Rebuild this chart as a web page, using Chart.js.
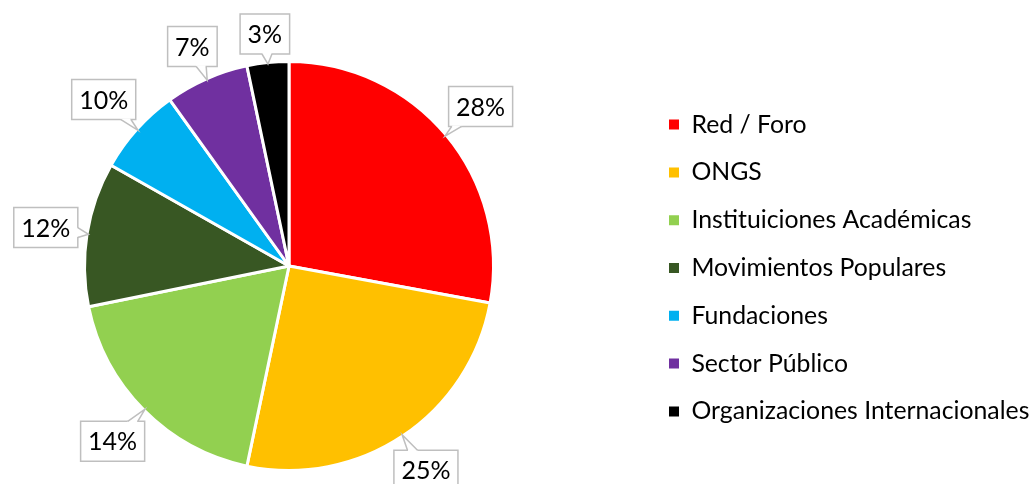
<!DOCTYPE html>
<html><head><meta charset="utf-8">
<script src="https://cdn.jsdelivr.net/npm/chart.js@4.4.0/dist/chart.umd.min.js"></script>
<style>html,body{margin:0;padding:0;background:#fff;}#wrap{width:1031px;height:484px;}</style>
</head><body><div id="wrap"><canvas id="c" width="1031" height="484"></canvas></div>
<script>
const categories = ['Red / Foro','ONGS','Instituiciones Académicas','Movimientos Populares','Fundaciones','Sector Público','Organizaciones Internacionales'];
const shares = [27.9, 25.4, 18.5, 11.4, 6.9, 6.6, 3.3];
const percentLabels = ['28%','25%','14%','12%','10%','7%','3%'];
const colors = ['#FF0000','#FFC000','#92D050','#385723','#00B0F0','#7030A0','#000000'];

const FONT = 'Lato';
const LEGEND_PAD = 23;

const placePlugin = {
  id: 'place',
  afterLayout(chart) {
    const lg = chart.legend;
    const w = lg.width;
    lg.left = 669 - LEGEND_PAD; lg.right = lg.left + w;
    lg.top += 2; lg.bottom += 2;
    const ca = chart.chartArea;
    ca.left = 0; ca.right = 578; ca.width = 578;
  }
};

function rectDist(px, py, bx, by, w, h) {
  const qx = Math.max(bx, Math.min(bx + w, px));
  const qy = Math.max(by, Math.min(by + h, py));
  return Math.hypot(px - qx, py - qy);
}

const calloutPlugin = {
  id: 'callouts',
  afterDatasetsDraw(chart) {
    const ctx = chart.ctx;
    const meta = chart.getDatasetMeta(0);
    ctx.save();
    ctx.font = '25px ' + FONT;
    meta.data.forEach((arc, i) => {
      const p = arc.getProps(['x','y','startAngle','endAngle','outerRadius'], true);
      const a = (p.startAngle + p.endAngle) / 2;
      const c = Math.cos(a), s = Math.sin(a);
      const R = p.outerRadius - 1.5;
      const tip = {x: p.x + R * c, y: p.y + R * s};
      const txt = percentLabels[i];
      const tw = ctx.measureText(txt).width;
      const w = tw + 15, h = 40;
      const gap = 9;
      let lo = R, hi = R + 300;
      for (let k = 0; k < 40; k++) {
        const m = (lo + hi) / 2;
        const ccx = p.x + m * c, ccy = p.y + m * s;
        if (rectDist(p.x, p.y, ccx - w / 2, ccy - h / 2, w, h) < R + gap) lo = m; else hi = m;
      }
      const d = (lo + hi) / 2;
      const cx = p.x + d * c, cy = p.y + d * s;
      const bx = cx - w / 2, by = cy - h / 2;
      const dx = tip.x - cx, dy = tip.y - cy, len = Math.hypot(dx, dy);
      const ux = dx / len, uy = dy / len;
      const tx = Math.abs(ux) > 1e-6 ? (w / 2) / Math.abs(ux) : Infinity;
      const ty = Math.abs(uy) > 1e-6 ? (h / 2) / Math.abs(uy) : Infinity;
      const t = Math.min(tx, ty);
      const basex = cx + ux * t, basey = cy + uy * t;
      let b1, b2;
      const hb = 5;
      if (tx < ty) {
        const yy = Math.max(by + hb, Math.min(by + h - hb, basey));
        b1 = {x: basex, y: yy - hb}; b2 = {x: basex, y: yy + hb};
      } else {
        const xx = Math.max(bx + hb, Math.min(bx + w - hb, basex));
        b1 = {x: xx - hb, y: basey}; b2 = {x: xx + hb, y: basey};
      }
      ctx.fillStyle = '#ffffff';
      ctx.strokeStyle = '#BFBFBF';
      ctx.lineWidth = 1.5;
      ctx.beginPath(); ctx.rect(bx, by, w, h); ctx.fill(); ctx.stroke();
      ctx.beginPath();
      ctx.moveTo(b1.x - ux * 1.5, b1.y - uy * 1.5);
      ctx.lineTo(tip.x, tip.y);
      ctx.lineTo(b2.x - ux * 1.5, b2.y - uy * 1.5);
      ctx.closePath(); ctx.fill();
      ctx.beginPath();
      ctx.moveTo(b1.x, b1.y); ctx.lineTo(tip.x, tip.y); ctx.lineTo(b2.x, b2.y);
      ctx.stroke();
      ctx.fillStyle = '#000000';
      ctx.textAlign = 'center'; ctx.textBaseline = 'middle';
      ctx.fillText(txt, cx, cy + 1);
    });
    ctx.restore();
  }
};

new Chart(document.getElementById('c'), {
  type: 'pie',
  data: {
    labels: categories,
    datasets: [{
      data: shares,
      backgroundColor: colors,
      borderColor: '#ffffff',
      borderWidth: 3,
      radius: 204.5
    }]
  },
  options: {
    responsive: false,
    animation: false,
    devicePixelRatio: 1,
    layout: {padding: {top: 48, bottom: 0, left: 0, right: 0}},
    plugins: {
      tooltip: {enabled: false},
      legend: {
        position: 'right',
        labels: {
          boxWidth: 10,
          boxHeight: 10,
          padding: LEGEND_PAD,
          color: '#000000',
          font: {family: FONT, size: 24.8, lineHeight: 1.2},
          generateLabels(chart) {
            return Chart.overrides.pie.plugins.legend.labels.generateLabels(chart).map(l => Object.assign(l, {lineWidth: 0, strokeStyle: l.fillStyle}));
          }
        }
      }
    }
  },
  plugins: [placePlugin, calloutPlugin]
});
</script>
</body></html>
